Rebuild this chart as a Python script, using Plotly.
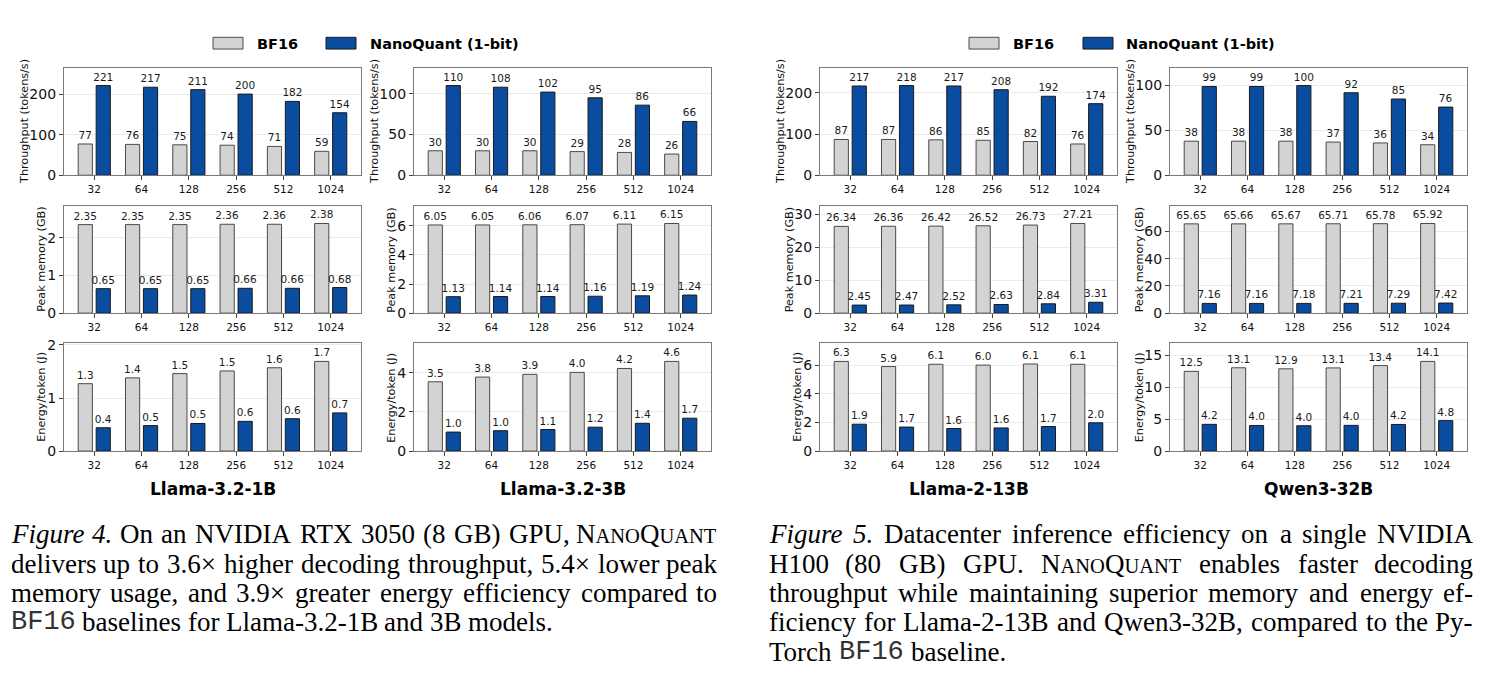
import re
import plotly.graph_objects as go

W, H = 1492, 686

# ---------------- data ----------------
contexts = ['32', '64', '128', '256', '512', '1024']
series_names = ['BF16', 'NanoQuant (1-bit)']
model_titles = ['Llama-3.2-1B', 'Llama-3.2-3B', 'Llama-2-13B', 'Qwen3-32B']
metric_titles = ['Throughput (tokens/s)', 'Peak memory (GB)', 'Energy/token (J)']

# Llama-3.2-1B (RTX 3050)
tp_1b_bf16 = [77, 76, 75, 74, 71, 59]
tp_1b_nq = [221, 217, 211, 200, 182, 154]
mem_1b_bf16 = [2.35, 2.35, 2.35, 2.36, 2.36, 2.38]
mem_1b_nq = [0.65, 0.65, 0.65, 0.66, 0.66, 0.68]
en_1b_bf16 = [1.27, 1.38, 1.46, 1.51, 1.57, 1.69]
en_1b_nq = [0.44, 0.48, 0.52, 0.56, 0.61, 0.72]

# Llama-3.2-3B (RTX 3050)
tp_3b_bf16 = [30, 30, 30, 29, 28, 26]
tp_3b_nq = [110, 108, 102, 95, 86, 66]
mem_3b_bf16 = [6.05, 6.05, 6.06, 6.07, 6.11, 6.15]
mem_3b_nq = [1.13, 1.14, 1.14, 1.16, 1.19, 1.24]
en_3b_bf16 = [3.54, 3.78, 3.92, 4.02, 4.22, 4.58]
en_3b_nq = [0.97, 1.04, 1.1, 1.22, 1.42, 1.68]

# Llama-2-13B (H100)
tp_13b_bf16 = [87, 87, 86, 85, 82, 76]
tp_13b_nq = [217, 218, 217, 208, 192, 174]
mem_13b_bf16 = [26.34, 26.36, 26.42, 26.52, 26.73, 27.21]
mem_13b_nq = [2.45, 2.47, 2.52, 2.63, 2.84, 3.31]
en_13b_bf16 = [6.28, 5.92, 6.08, 6.02, 6.1, 6.08]
en_13b_nq = [1.88, 1.68, 1.58, 1.62, 1.72, 1.98]

# Qwen3-32B (H100)
tp_32b_bf16 = [38, 38, 38, 37, 36, 34]
tp_32b_nq = [99, 99, 100, 92, 85, 76]
mem_32b_bf16 = [65.65, 65.66, 65.67, 65.71, 65.78, 65.92]
mem_32b_nq = [7.16, 7.16, 7.18, 7.21, 7.29, 7.42]
en_32b_bf16 = [12.52, 13.08, 12.92, 13.06, 13.42, 14.08]
en_32b_nq = [4.2, 4.02, 3.98, 4.04, 4.18, 4.78]

# y tick values per panel
ticks_tp = [[0, 100, 200], [0, 50, 100], [0, 100, 200], [0, 50, 100]]
ticks_mem = [[0, 1, 2], [0, 2, 4, 6], [0, 10, 20, 30], [0, 20, 40, 60]]
ticks_en = [[0, 1, 2], [0, 2, 4], [0, 2, 4, 6], [0, 5, 10, 15]]

fig4_caption = [
    "*Figure* *4.* On an NVIDIA RTX 3050 (8 GB) GPU, N^ANO^Q^UANT^",
    "delivers up to 3.6× higher decoding throughput, 5.4× lower peak",
    "memory usage, and 3.9× greater energy efficiency compared to",
    "`BF16` baselines for Llama-3.2-1B and 3B models.",
]
fig5_caption = [
    "*Figure* *5.* Datacenter inference efficiency on a single NVIDIA",
    "H100 (80 GB) GPU. N^ANO^Q^UANT^ enables faster decoding",
    "throughput while maintaining superior memory and energy ef-",
    "ficiency for Llama-2-13B and Qwen3-32B, compared to the Py-",
    "Torch `BF16` baseline.",
]

# ---------------- styling / layout ----------------
BF_COLOR = '#d3d3d3'
NQ_COLOR = '#0a4ca0'
FONT = 'DejaVu Sans'
SERIF = 'Liberation Serif'

col_left = [64, 414, 820, 1170]
col_w = 297
row_top = [62, 203, 344]
row_h = 110


def px(x):
    return x / W


def py(y):
    return 1 - y / H


data = [
    [(tp_1b_bf16, tp_1b_nq), (tp_3b_bf16, tp_3b_nq), (tp_13b_bf16, tp_13b_nq), (tp_32b_bf16, tp_32b_nq)],
    [(mem_1b_bf16, mem_1b_nq), (mem_3b_bf16, mem_3b_nq), (mem_13b_bf16, mem_13b_nq), (mem_32b_bf16, mem_32b_nq)],
    [(en_1b_bf16, en_1b_nq), (en_3b_bf16, en_3b_nq), (en_13b_bf16, en_13b_nq), (en_32b_bf16, en_32b_nq)],
]
ticks = [ticks_tp, ticks_mem, ticks_en]
fmts = ['%{y:.0f}', '%{y:.2f}', '%{y:.1f}']

fig = go.Figure()
layout = {}
annotations = []
n = 0
xs = list(range(len(contexts)))
for r in range(3):
    for c in range(4):
        n += 1
        sfx = '' if n == 1 else str(n)
        bf, nq = data[r][c]
        for vals, color, edge, off, name in [
            (bf, BF_COLOR, '#4a4a4a', -0.34, series_names[0]),
            (nq, NQ_COLOR, '#1a1a1a', 0.04, series_names[1]),
        ]:
            fig.add_trace(go.Bar(
                x=xs, y=vals, name=name, width=0.3, offset=off,
                marker=dict(color=color, line=dict(color=edge, width=1)),
                texttemplate=fmts[r], textposition='outside',
                textfont=dict(family=FONT, size=10.5, color='#1a1a1a'),
                cliponaxis=False, constraintext='none',
                xaxis='x' + sfx, yaxis='y' + sfx, showlegend=False,
                hoverinfo='skip'))
        ymax = max(max(bf), max(nq)) * 1.2
        x0 = col_left[c]
        y0 = row_top[r]
        layout['xaxis' + sfx] = dict(
            domain=[px(x0), px(x0 + col_w)], anchor='y' + sfx,
            range=[-0.64, len(contexts) - 0.36],
            tickvals=xs, ticktext=contexts, ticks='outside', ticklen=4,
            tickcolor='#444', tickfont=dict(family=FONT, size=10.5, color='#111'),
            showgrid=False, zeroline=False, showline=True, mirror=True,
            linecolor='#7a7a7a', linewidth=1.3, fixedrange=True)
        layout['yaxis' + sfx] = dict(
            domain=[py(y0 + row_h), py(y0)], anchor='x' + sfx,
            range=[0, ymax], tickvals=ticks[r][c], ticks='outside', ticklen=4,
            tickcolor='#444', tickfont=dict(family=FONT, size=14, color='#111'),
            showgrid=True, gridcolor='#ebebeb', gridwidth=0.8,
            zeroline=False, showline=True, mirror=True,
            linecolor='#7a7a7a', linewidth=1.3, fixedrange=True)
        ndig = max(len(str(t)) for t in ticks[r][c])
        off = 14 + 8.5 * ndig
        annotations.append(dict(
            text=metric_titles[r], x=px(x0 - off), y=py(y0 + row_h / 2),
            xref='paper', yref='paper', xanchor='center', yanchor='middle',
            textangle=-90, showarrow=False,
            font=dict(family=FONT, size=11.2, color='#111')))

# model titles under each column
for c in range(4):
    annotations.append(dict(
        text='<b>%s</b>' % model_titles[c], x=px(col_left[c] + col_w / 2), y=py(493),
        xref='paper', yref='paper', xanchor='center', yanchor='middle',
        showarrow=False, font=dict(family=FONT, size=17, color='black')))

# legends (one per figure)
shapes = []
legend_pos = [(213, 255, 326, 368), (969, 1011, 1083, 1124)]
for (p1, t1, p2, t2) in legend_pos:
    for pxl, tx, col, edge, name in [(p1, t1, BF_COLOR, '#4a4a4a', series_names[0]),
                                     (p2, t2, NQ_COLOR, '#1a1a1a', series_names[1])]:
        shapes.append(dict(type='rect', xref='paper', yref='paper',
                           x0=px(pxl), x1=px(pxl + 30), y0=py(43), y1=py(31),
                           fillcolor=col, line=dict(color=edge, width=1)))
        annotations.append(dict(
            text='<b>%s</b>' % name, x=px(tx), y=py(37.5), xref='paper', yref='paper',
            xanchor='left', yanchor='middle', showarrow=False,
            font=dict(family=FONT, size=14.5, color='black')))

# ---------------- captions (justified, word by word) ----------------
ROMAN = dict(a=444, b=500, c=444, d=500, e=444, f=333, g=500, h=500, i=278, j=278, k=500,
             l=278, m=778, n=500, o=500, p=500, q=500, r=333, s=389, t=278, u=500, v=500,
             w=722, x=500, y=500, z=444,
             A=722, B=667, C=667, D=722, E=611, F=556, G=722, H=722, I=333, J=389, K=722,
             L=611, M=889, N=722, O=722, P=556, Q=722, R=667, S=556, T=611, U=722, V=722,
             W=944, X=722, Y=722, Z=611)
for d in '0123456789':
    ROMAN[d] = 500
ROMAN.update({'.': 250, ',': 250, '(': 333, ')': 333, '-': 333, '×': 564, ' ': 250})
ITALIC = dict(ROMAN)
ITALIC.update(dict(F=611, r=389, a=500, f=278))
SC = 0.76
CAP_SIZE = 27


def parse(word):
    segs = []
    for part in re.split(r'(\*[^*]+\*|\^[^^]+\^|`[^`]+`)', word):
        if not part:
            continue
        if part[0] == '*':
            segs.append((part[1:-1], 'i'))
        elif part[0] == '^':
            segs.append((part[1:-1], 'sc'))
        elif part[0] == '`':
            segs.append((part[1:-1], 'tt'))
        else:
            segs.append((part, 'r'))
    return segs


def seg_width(text, style, size):
    if style == 'tt':
        return 0.6 * size * len(text)
    if style == 'sc':
        return sum(ROMAN.get(ch, 500) for ch in text) / 1000 * size * SC
    table = ITALIC if style == 'i' else ROMAN
    return sum(table.get(ch, 500) for ch in text) / 1000 * size


def seg_html(text, style, size):
    if style == 'i':
        return '<i>%s</i>' % text
    if style == 'sc':
        return '<span style="font-size:%.1fpx">%s</span>' % (size * SC, text)
    if style == 'tt':
        return '<span style="font-family:Liberation Mono;color:#333">%s</span>' % text
    return text


def caption(lines, x0, x1, y_centers, size):
    anns = []
    for li, (line, yc) in enumerate(zip(lines, y_centers)):
        words = [parse(w) for w in line.split(' ')]
        widths = [sum(seg_width(t, s, size) for t, s in segs) for segs in words]
        last = li == len(lines) - 1
        if not last and len(words) > 1:
            gap = (x1 - x0 - sum(widths)) / (len(words) - 1)
        else:
            gap = 0.25 * size
        x = x0
        for wi, (segs, w) in enumerate(zip(words, widths)):
            html = ''.join(seg_html(t, s, size) for t, s in segs)
            if wi == 0:
                xa, xp = 'left', x
            elif wi == len(words) - 1 and not last:
                xa, xp = 'right', x1
            else:
                xa, xp = 'center', x + w / 2
            anns.append(dict(text=html, x=px(xp), y=py(yc), xref='paper', yref='paper',
                             xanchor=xa, yanchor='middle', showarrow=False, borderpad=0,
                             font=dict(family=SERIF, size=size, color='black')))
            x += w + gap
    return anns


annotations += caption(fig4_caption, 10, 718, [539, 569, 599, 629], CAP_SIZE)
annotations += caption(fig5_caption, 768, 1474, [539, 569, 599, 629, 659], CAP_SIZE)

fig.update_layout(
    width=W, height=H, margin=dict(l=0, r=0, t=0, b=0),
    paper_bgcolor='white', plot_bgcolor='white', showlegend=False,
    barmode='overlay', font=dict(family=FONT),
    annotations=annotations, shapes=shapes, **layout)

fig.write_html('out.html')
